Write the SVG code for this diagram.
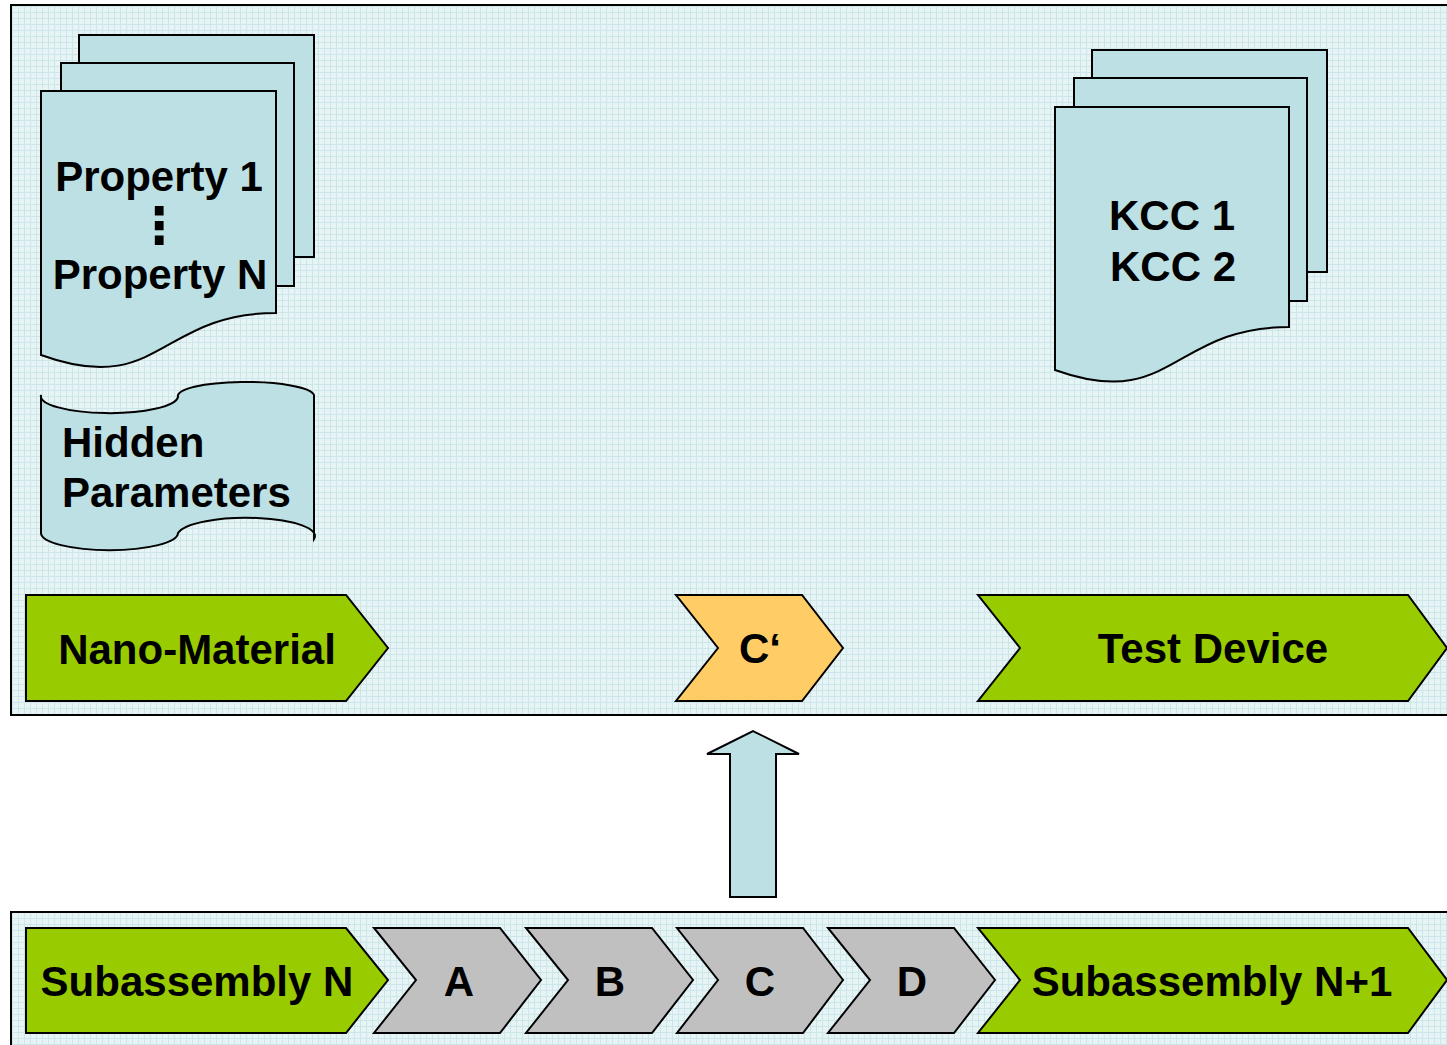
<svg xmlns="http://www.w3.org/2000/svg" width="1447" height="1045" viewBox="0 0 1447 1045">
  <defs>
    <!-- faint graph-paper fill for the two panels -->
    <pattern id="grid" width="6" height="6" patternUnits="userSpaceOnUse">
      <rect width="6" height="6" fill="#e6f4f5"/>
      <path d="M0,0.5 H6 M0.5,0 V6" stroke="#cde6ea" stroke-width="1"/>
    </pattern>
    <style>
      .panel { fill: url(#grid); stroke: #000; stroke-width: 2; }
      .doc { fill: #bce0e3; stroke: #000; stroke-width: 2; }
      .green { fill: #99cc00; stroke: #000; stroke-width: 2; stroke-linejoin: miter; }
      .grey { fill: #c0c0c0; stroke: #000; stroke-width: 2; }
      .orange { fill: #ffcc66; stroke: #000; stroke-width: 2; }
      .arrow { fill: #bce0e3; stroke: #000; stroke-width: 2; }
      text { font-family: "Liberation Sans", Arial, sans-serif; font-weight: bold; font-size: 42px; fill: #000; }
      .c { text-anchor: middle; }
      .vdots { font-family: "DejaVu Sans", sans-serif; font-size: 50px; }
    </style>
  </defs>

  <rect width="1447" height="1045" fill="#ffffff"/>

  <!-- panels -->
  <rect class="panel" x="11" y="5" width="1450" height="710"/>
  <rect class="panel" x="11" y="912" width="1450" height="150"/>

  <!-- Property stack -->
  <g id="properties">
    <rect class="doc" x="79" y="35" width="235" height="222"/>
    <rect class="doc" x="61" y="63" width="233" height="223"/>
    <path class="doc" d="M41,91 H276 V313 C159,313 159,398 41,355 Z"/>
    <text class="c" x="159" y="191" font-size="41">Property 1</text>
    <text class="c vdots" x="159" y="243">⋮</text>
    <text class="c" x="160" y="289" font-size="41">Property N</text>
  </g>

  <!-- Hidden parameters (punched tape) -->
  <g id="hidden-parameters">
    <path class="doc" d="M41,395 A68,17 0 0 0 178,397 A68,14 0 0 1 314,395 L314,539 A68,18 0 0 0 178,533 A68,17 0 0 1 41,533 Z"/>
    <text x="62" y="457">Hidden</text>
    <text x="62" y="507">Parameters</text>
  </g>

  <!-- KCC stack -->
  <g id="kcc">
    <rect class="doc" x="1092" y="50" width="235" height="222"/>
    <rect class="doc" x="1074" y="78" width="233" height="223"/>
    <path class="doc" d="M1055,107 H1289 V327 C1172,327 1172,412 1055,370 Z"/>
    <text class="c" x="1172" y="230" font-size="41">KCC 1</text>
    <text class="c" x="1173" y="281" font-size="41">KCC 2</text>
  </g>

  <!-- upper process row -->
  <g id="nano-material">
    <path class="green" d="M26,595 H346 L388,648 L346,701 H26 Z"/>
    <text class="c" x="197" y="664" font-size="42.5">Nano-Material</text>
  </g>
  <g id="c-prime">
    <path class="orange" d="M676,595 H802 L843,648 L802,701 H676 L718,648 Z"/>
    <text class="c" x="760" y="663">C‘</text>
  </g>
  <g id="test-device">
    <path class="green" d="M978,595 H1408 L1447,648 L1408,701 H978 L1020,648 Z"/>
    <text class="c" x="1213" y="663">Test Device</text>
  </g>

  <!-- connector -->
  <g id="connectors">
    <path class="arrow" d="M730,897 V754 H707 L753,731 L799,754 H776 V897 Z"/>
  </g>

  <!-- lower process row -->
  <g id="subassembly-n">
    <path class="green" d="M26,928 H346 L388,980 L346,1033 H26 Z"/>
    <text class="c" x="197" y="996">Subassembly N</text>
  </g>
  <g id="step-a">
    <path class="grey" d="M374,928 H500 L541,980 L500,1033 H374 L416,980 Z"/>
    <text class="c" x="459" y="996">A</text>
  </g>
  <g id="step-b">
    <path class="grey" d="M526,928 H652 L693,980 L652,1033 H526 L568,980 Z"/>
    <text class="c" x="610" y="996">B</text>
  </g>
  <g id="step-c">
    <path class="grey" d="M677,928 H803 L843,980 L803,1033 H677 L718,980 Z"/>
    <text class="c" x="760" y="996">C</text>
  </g>
  <g id="step-d">
    <path class="grey" d="M828,928 H954 L995,980 L954,1033 H828 L870,980 Z"/>
    <text class="c" x="912" y="996">D</text>
  </g>
  <g id="subassembly-n1">
    <path class="green" d="M978,928 H1408 L1447,980 L1408,1033 H978 L1020,980 Z"/>
    <text class="c" x="1212" y="996">Subassembly N+1</text>
  </g>
</svg>
